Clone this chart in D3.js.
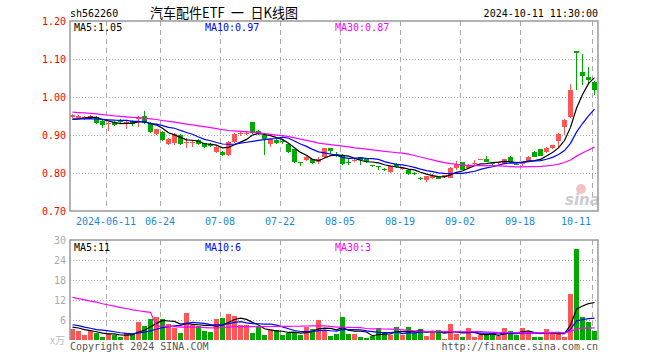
<!DOCTYPE html>
<html><head><meta charset="utf-8">
<script src="https://cdn.jsdelivr.net/npm/d3@7/dist/d3.min.js"></script>
<style>body{margin:0;background:#fff;}svg{display:block;}</style>
</head><body>
<svg id="c" width="660" height="360"></svg>
<script>
// ---------- data ----------
const dates = ["2024-05-31","2024-06-03","2024-06-04","2024-06-05","2024-06-06","2024-06-07","2024-06-11","2024-06-12","2024-06-13","2024-06-14",
"2024-06-17","2024-06-18","2024-06-19","2024-06-20","2024-06-21","2024-06-24","2024-06-25","2024-06-26","2024-06-27","2024-06-28",
"2024-07-01","2024-07-02","2024-07-03","2024-07-04","2024-07-05","2024-07-08","2024-07-09","2024-07-10","2024-07-11","2024-07-12",
"2024-07-15","2024-07-16","2024-07-17","2024-07-18","2024-07-19","2024-07-22","2024-07-23","2024-07-24","2024-07-25","2024-07-26",
"2024-07-29","2024-07-30","2024-07-31","2024-08-01","2024-08-02","2024-08-05","2024-08-06","2024-08-07","2024-08-08","2024-08-09",
"2024-08-12","2024-08-13","2024-08-14","2024-08-15","2024-08-16","2024-08-19","2024-08-20","2024-08-21","2024-08-22","2024-08-23",
"2024-08-26","2024-08-27","2024-08-28","2024-08-29","2024-08-30","2024-09-02","2024-09-03","2024-09-04","2024-09-05","2024-09-06",
"2024-09-09","2024-09-10","2024-09-11","2024-09-12","2024-09-13","2024-09-18","2024-09-19","2024-09-20","2024-09-23","2024-09-24",
"2024-09-25","2024-09-26","2024-09-27","2024-09-30","2024-10-08","2024-10-09","2024-10-10","2024-10-11"];

const openP = [0.948,0.945,0.942,0.945,0.948,0.938,0.928,0.935,0.938,0.931,
0.938,0.942,0.950,0.931,0.903,0.909,0.876,0.878,0.901,0.878,
0.880,0.887,0.878,0.876,0.856,0.856,0.847,0.882,0.903,0.903,
0.933,0.911,0.900,0.876,0.886,0.885,0.876,0.862,0.829,0.834,
0.836,0.829,0.842,0.865,0.851,0.847,0.830,0.832,0.841,0.836,
0.821,0.818,0.810,0.803,0.825,0.810,0.809,0.800,0.788,0.781,
0.786,0.790,0.789,0.788,0.814,0.828,0.813,0.825,0.835,0.837,
0.827,0.826,0.825,0.843,0.823,0.824,0.832,0.855,0.862,0.855,
0.865,0.884,0.920,0.948,1.121,1.065,1.053,1.040];
const highP = [0.955,0.953,0.950,0.952,0.950,0.940,0.934,0.937,0.941,0.937,
0.940,0.950,0.962,0.933,0.917,0.911,0.891,0.905,0.903,0.891,
0.887,0.889,0.880,0.878,0.871,0.858,0.884,0.904,0.910,0.908,
0.935,0.913,0.902,0.891,0.890,0.886,0.878,0.864,0.830,0.845,
0.838,0.841,0.867,0.867,0.854,0.849,0.836,0.836,0.843,0.838,
0.822,0.819,0.812,0.820,0.827,0.815,0.811,0.802,0.789,0.793,
0.798,0.792,0.796,0.815,0.832,0.830,0.824,0.834,0.837,0.846,
0.829,0.830,0.838,0.845,0.824,0.829,0.845,0.857,0.864,0.868,
0.875,0.904,0.942,1.035,1.121,1.114,1.079,1.042];
const lowP = [0.945,0.943,0.940,0.943,0.929,0.918,0.911,0.924,0.930,0.915,
0.924,0.922,0.929,0.906,0.900,0.885,0.874,0.873,0.874,0.866,
0.869,0.874,0.867,0.869,0.853,0.845,0.844,0.880,0.898,0.900,
0.903,0.901,0.847,0.869,0.876,0.876,0.852,0.827,0.819,0.832,
0.825,0.825,0.840,0.849,0.842,0.821,0.820,0.830,0.822,0.827,
0.816,0.807,0.806,0.799,0.814,0.808,0.795,0.794,0.781,0.776,
0.784,0.783,0.787,0.786,0.807,0.807,0.811,0.818,0.833,0.828,
0.821,0.824,0.823,0.827,0.820,0.818,0.830,0.841,0.844,0.853,
0.862,0.869,0.900,0.946,1.019,1.031,1.031,1.004];
const closeP = [0.953,0.950,0.947,0.950,0.931,0.926,0.932,0.926,0.934,0.935,
0.929,0.948,0.931,0.908,0.915,0.887,0.889,0.902,0.876,0.882,
0.882,0.876,0.869,0.871,0.869,0.847,0.882,0.902,0.906,0.905,
0.905,0.903,0.889,0.889,0.880,0.881,0.854,0.829,0.827,0.843,
0.827,0.836,0.865,0.858,0.849,0.823,0.828,0.834,0.834,0.829,
0.820,0.817,0.808,0.818,0.816,0.812,0.797,0.798,0.787,0.791,
0.792,0.785,0.794,0.813,0.825,0.809,0.822,0.827,0.836,0.830,
0.823,0.828,0.836,0.829,0.822,0.827,0.842,0.843,0.846,0.866,
0.873,0.902,0.940,1.019,1.117,1.054,1.046,1.019];
// volume, 万
const volume = [3.2,2.8,1.5,2.7,2.2,1.0,1.8,1.5,1.0,2.0,
1.8,5.5,4.3,6.3,7.0,6.2,4.7,3.7,2.2,8.2,
4.6,4.2,2.8,2.5,6.3,6.7,7.9,7.3,4.5,4.5,
2.2,4.0,1.6,3.0,3.0,1.5,2.2,2.0,1.5,4.0,
3.3,6.0,3.0,1.2,1.8,6.8,1.8,1.8,1.0,0.6,
1.2,3.6,2.4,1.4,3.8,1.5,3.8,2.0,3.2,1.2,
2.6,3.0,0.3,4.8,1.8,0.8,3.5,1.0,1.4,1.4,
1.8,1.2,3.5,2.6,1.6,3.5,2.4,1.0,1.0,3.3,
2.4,1.8,1.0,13.8,27.3,7.0,5.4,2.8];
// the 29 sessions before the window (estimated so the moving averages start where the picture shows)
const closesBefore = [0.985,0.982,0.980,0.978,0.982,0.979,0.975,0.972,0.976,0.970,
0.968,0.972,0.966,0.963,0.965,0.960,0.958,0.955,0.957,0.950,
0.945,0.942,0.946,0.940,0.938,0.942,0.936,0.939,0.935];
const volumesBefore = [15,12,14,11,16,13,12,14,10,15,13,12,13,130,7,6,6.5,7,6,6,5.5,6,6,6,3,4,4,4,4];

const priceTicks = [1.20,1.10,1.00,0.90,0.80,0.70];
const volTicks = [30,24,18,12,6];
const dateTickDates = ["2024-06-11","2024-06-24","2024-07-08","2024-07-22","2024-08-05","2024-08-19","2024-09-02","2024-09-18","2024-10-11"];
const dateTickLabels = ["2024-06-11","06-24","07-08","07-22","08-05","08-19","09-02","09-18","10-11"];
const priceMaLabels = ["MA5:1.05","MA10:0.97","MA30:0.87"];
const volMaLabels = ["MA5:11","MA10:6","MA30:3"];
const maPeriods = [5,10,30];
const maColors = ["#000000","#0000ff","#ff00ff"];

// ---------- drawing ----------
const svg = d3.select("#c");
const MONO = "'DejaVu Sans Mono', 'Liberation Mono', monospace";
const UP = "#ff5555", DOWN = "#00a800", GRID = "#aaaaaa", BORDER = "#999999";

const L = 70, R = 598, PT = 21, PB = 211, VT = 240, VB = 340;
const x = d3.scaleBand().domain(dates).range([L, R]).paddingInner(0).paddingOuter(0);
const bw = x.bandwidth() - 1;
const yP = d3.scaleLinear().domain([0.70, 1.20]).range([PB, PT]);
const yV = d3.scaleLinear().domain([0, 30]).range([VB, VT]);

function movingAvg(before, vals, n) {
  const all = before.concat(vals);
  const off = before.length;
  return vals.map((v, i) => d3.sum(all.slice(off + i - n + 1, off + i + 1)) / n);
}

const candles = dates.map((d, i) => ({d, o: openP[i], h: highP[i], l: lowP[i], c: closeP[i], v: volume[i],
  up: closeP[i] >= openP[i]}));

// gridlines main
const g = svg.append("g");
g.selectAll(".hg").data(priceTicks.slice(1, -1)).join("line")
  .attr("x1", L).attr("x2", R).attr("y1", d => Math.round(yP(d)) + 0.5).attr("y2", d => Math.round(yP(d)) + 0.5)
  .attr("stroke", GRID).attr("stroke-dasharray", "1,2");
g.selectAll(".vg").data(dateTickDates).join("line")
  .attr("x1", d => x(d) + 0.5).attr("x2", d => x(d) + 0.5).attr("y1", PT).attr("y2", PB)
  .attr("stroke", GRID).attr("stroke-dasharray", "5,4");
// gridlines volume
g.selectAll(".hgv").data(volTicks.slice(1)).join("line")
  .attr("x1", L).attr("x2", R).attr("y1", d => Math.round(yV(d)) + 0.5).attr("y2", d => Math.round(yV(d)) + 0.5)
  .attr("stroke", GRID).attr("stroke-dasharray", "1,2");
g.selectAll(".vgv").data(dateTickDates).join("line")
  .attr("x1", d => x(d) + 0.5).attr("x2", d => x(d) + 0.5).attr("y1", VT).attr("y2", VB)
  .attr("stroke", GRID).attr("stroke-dasharray", "5,4");

// sina watermark
const wm = svg.append("g");
wm.append("circle").attr("cx", 581).attr("cy", 189).attr("r", 5).attr("fill", "#f3c2c2");
wm.append("text").attr("x", 565).attr("y", 205).attr("font-family", "'DejaVu Sans', sans-serif")
  .attr("font-size", 15).attr("font-weight", "bold").attr("font-style", "italic").attr("fill", "#cccccc").text("sina");

// candles
const cg = svg.append("g");
cg.selectAll("line").data(candles).join("line")
  .attr("x1", d => x(d.d) + 2.5).attr("x2", d => x(d.d) + 2.5)
  .attr("y1", d => yP(d.h)).attr("y2", d => yP(d.l))
  .attr("stroke", d => d.up ? UP : DOWN).attr("stroke-width", 1).attr("shape-rendering", "crispEdges");
cg.selectAll("rect").data(candles).join("rect")
  .attr("x", d => x(d.d)).attr("width", bw)
  .attr("y", d => yP(Math.max(d.o, d.c)))
  .attr("height", d => Math.max(1, Math.abs(yP(d.o) - yP(d.c))))
  .attr("fill", d => d.up ? UP : DOWN).attr("shape-rendering", "crispEdges");

// volume bars
svg.append("g").selectAll("rect").data(candles).join("rect")
  .attr("x", d => x(d.d)).attr("width", bw)
  .attr("y", d => yV(d.v)).attr("height", d => VB - yV(d.v))
  .attr("fill", d => d.up ? UP : DOWN).attr("shape-rendering", "crispEdges");

// moving averages
maPeriods.forEach((n, k) => {
  const mp = movingAvg(closesBefore, closeP, n);
  svg.append("path").datum(mp)
    .attr("d", d3.line().x((v, i) => x(dates[i]) + 2.5).y(v => yP(v)))
    .attr("fill", "none").attr("stroke", maColors[k]).attr("stroke-width", 1.2);
  const mv = movingAvg(volumesBefore, volume, n);
  svg.append("path").datum(mv)
    .attr("d", d3.line().x((v, i) => x(dates[i]) + 2.5).y(v => yV(v)))
    .attr("fill", "none").attr("stroke", maColors[k]).attr("stroke-width", 1.2);
});

// borders
svg.append("rect").attr("x", L).attr("y", PT).attr("width", R - L).attr("height", PB - PT)
  .attr("fill", "none").attr("stroke", BORDER).attr("stroke-width", 1.5);
svg.append("path").attr("d", `M${L},${VB}V${VT}H${R}V${VB}`)
  .attr("fill", "none").attr("stroke", BORDER).attr("stroke-width", 1.5);

// price axis labels
const ay = svg.append("g").attr("transform", `translate(${L},0)`)
  .call(d3.axisLeft(yP).tickValues(priceTicks).tickFormat(d3.format(".2f")).tickSize(0).tickPadding(4));
ay.select(".domain").remove();
ay.selectAll("text").attr("fill", "#ff0000").attr("font-family", MONO).attr("font-size", 10);

// volume axis labels
const av = svg.append("g").attr("transform", `translate(${L},0)`)
  .call(d3.axisLeft(yV).tickValues(volTicks).tickFormat(d3.format("d")).tickSize(0).tickPadding(4));
av.select(".domain").remove();
av.selectAll("text").attr("fill", "#aaaaaa").attr("font-family", MONO).attr("font-size", 10);

// date labels (last one kept inside the frame)
svg.append("g").selectAll("text").data(dateTickDates).join("text")
  .attr("x", (d, i) => (x(d) + dateTickLabels[i].length * 3 > R) ? x(d) - 1 : x(d))
  .attr("text-anchor", (d, i) => (x(d) + dateTickLabels[i].length * 3 > R) ? "end" : "middle")
  .attr("y", 225).attr("fill", "#1a88d8").attr("font-family", MONO).attr("font-size", 10)
  .text((d, i) => dateTickLabels[i]);

// MA labels
const maX = [74, 205, 335];
svg.append("g").selectAll("text").data(priceMaLabels).join("text")
  .attr("x", (d, i) => maX[i]).attr("y", 31).attr("fill", (d, i) => maColors[i])
  .attr("font-family", MONO).attr("font-size", 10).text(d => d);
svg.append("g").selectAll("text").data(volMaLabels).join("text")
  .attr("x", (d, i) => maX[i]).attr("y", 251).attr("fill", (d, i) => maColors[i])
  .attr("font-family", MONO).attr("font-size", 10).text(d => d);

// header
svg.append("text").attr("x", 70).attr("y", 17).attr("font-family", MONO).attr("font-size", 10)
  .attr("fill", "#000").text("sh562260");
svg.append("text").attr("x", 150).attr("y", 18).attr("font-family", "'Noto Sans CJK SC', sans-serif").attr("font-size", 14)
  .attr("textLength", 148).attr("lengthAdjust", "spacingAndGlyphs")
  .attr("fill", "#000").text("汽车配件ETF\u2002一\u2002日K线图");
svg.append("text").attr("x", 598).attr("y", 17).attr("text-anchor", "end").attr("font-family", MONO).attr("font-size", 10)
  .attr("fill", "#000").text("2024-10-11 11:30:00");

// footer
svg.append("text").attr("x", 50).attr("y", 344).attr("font-family", "'Noto Sans CJK SC', sans-serif").attr("font-size", 10)
  .attr("fill", "#bbbbbb").text("x万");
svg.append("text").attr("x", 70).attr("y", 350).attr("font-family", MONO).attr("font-size", 10)
  .attr("fill", "#555555").text("Copyright 2024 SINA.COM");
svg.append("text").attr("x", 598).attr("y", 350).attr("text-anchor", "end").attr("font-family", MONO).attr("font-size", 10)
  .attr("fill", "#555555").text("http://finance.sina.com.cn");
</script>
</body></html>
